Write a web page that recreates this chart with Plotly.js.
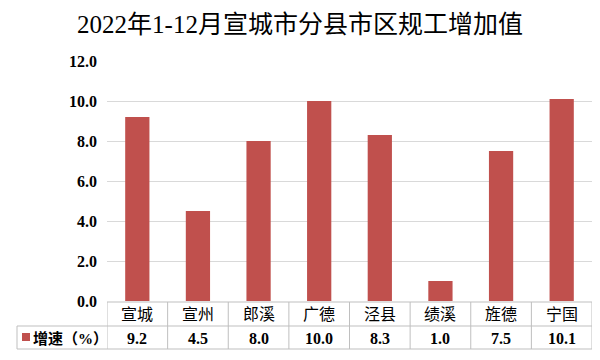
<!DOCTYPE html>
<html>
<head>
<meta charset="utf-8">
<script src="https://cdn.plot.ly/plotly-3.0.1.min.js"></script>
<style>html,body{margin:0;padding:0;background:#fff;}#chart{width:600px;height:360px;}</style>
</head>
<body>
<div id="chart"></div>
<script>
const titleText = '2022年1-12月宣城市分县市区规工增加值';
const categories = ['宣城', '宣州', '郎溪', '广德', '泾县', '绩溪', '旌德', '宁国'];
const growth = [9.2, 4.5, 8.0, 10.0, 8.3, 1.0, 7.5, 10.1];
const seriesName = '增速（%）';
const yTicks = [0, 2, 4, 6, 8, 10, 12];

const BAR = '#c0504d';
const LINE = '#bfbfbf';
const FONT = '"Liberation Serif", "Noto Sans CJK SC", serif';

// plot area: x 107..592, y 61..301
const L = 107, R = 8, T = 61, B = 59;
const PW = 600 - L - R, PH = 360 - T - B;
const py = px => (301 - px) / PH;     // pixel y -> paper y
const pxp = px => (px - L) / PW;      // pixel x -> paper x

const shapes = [];
const annotations = [];
const lineStyle = {color: LINE, width: 1};

shapes.push({type: 'line', xref: 'paper', yref: 'paper', x0: 0, x1: 1, y0: py(302), y1: py(302), line: lineStyle});
shapes.push({type: 'line', xref: 'paper', yref: 'paper', x0: pxp(17), x1: 1, y0: py(326), y1: py(326), line: lineStyle});
shapes.push({type: 'line', xref: 'paper', yref: 'paper', x0: pxp(17), x1: 1, y0: py(349), y1: py(349), line: lineStyle});
shapes.push({type: 'line', xref: 'paper', yref: 'paper', x0: pxp(17), x1: pxp(17), y0: py(326), y1: py(349), line: lineStyle});
for (let i = 0; i <= categories.length; i++) {
  shapes.push({type: 'line', xref: 'x', yref: 'paper', x0: i - 0.5, x1: i - 0.5, y0: py(302), y1: py(349), line: lineStyle});
}
shapes.push({type: 'rect', xref: 'paper', yref: 'paper', x0: pxp(22), x1: pxp(30), y0: py(333), y1: py(341), fillcolor: BAR, line: {width: 0}});

categories.forEach((c, i) => {
  annotations.push({xref: 'x', yref: 'paper', x: c, y: py(314), text: c, showarrow: false,
    xanchor: 'center', yanchor: 'middle', font: {family: FONT, size: 16, color: '#000'}});
  annotations.push({xref: 'x', yref: 'paper', x: c, y: py(338), text: '<b>' + growth[i].toFixed(1) + '</b>', showarrow: false,
    xanchor: 'center', yanchor: 'middle', font: {family: FONT, size: 16, color: '#000'}});
});
annotations.push({xref: 'paper', yref: 'paper', x: pxp(31), y: py(338), text: '<b>' + seriesName + '</b>', showarrow: false,
  xanchor: 'left', yanchor: 'middle', font: {family: FONT, size: 15, color: '#000'}});

const data = [{
  type: 'bar',
  x: categories,
  y: growth,
  name: seriesName,
  marker: {color: BAR},
  hoverinfo: 'x+y'
}];

const layout = {
  width: 600, height: 360,
  margin: {l: L, r: R, t: T, b: B, pad: 0},
  paper_bgcolor: '#fff', plot_bgcolor: '#fff',
  title: {text: titleText, x: 0.5, xref: 'container', xanchor: 'center', y: 1 - 24 / 360, yref: 'container', yanchor: 'middle',
    font: {family: FONT, size: 25, color: '#000'}},
  showlegend: false,
  bargap: 0.6,
  xaxis: {type: 'category', showticklabels: false, showgrid: false, zeroline: false, showline: false, ticks: '', range: [-0.5, 7.5]},
  yaxis: {range: [0, 12], tickvals: yTicks, ticktext: yTicks.map(v => '<b>' + v.toFixed(1) + '</b>'),
    showgrid: true, gridcolor: '#d9d9d9', gridwidth: 1, zeroline: false, showline: false, ticks: '',
    ticklabelstandoff: 9, tickfont: {family: FONT, size: 16, color: '#000'}},
  shapes: shapes,
  annotations: annotations
};

Plotly.newPlot('chart', data, layout, {displayModeBar: false, staticPlot: true});
</script>
</body>
</html>
